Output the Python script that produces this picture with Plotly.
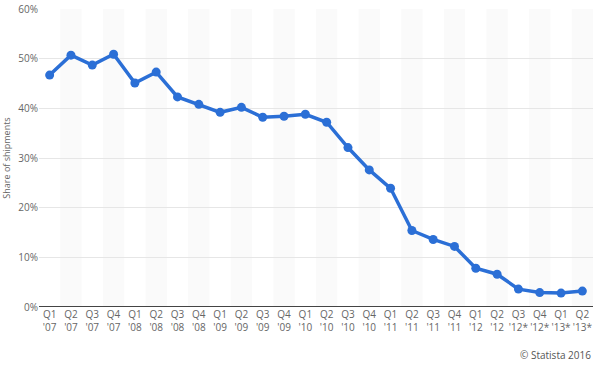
import plotly.graph_objects as go

quarters = ["Q1<br>'07", "Q2<br>'07", "Q3<br>'07", "Q4<br>'07",
            "Q1<br>'08", "Q2<br>'08", "Q3<br>'08", "Q4<br>'08",
            "Q1<br>'09", "Q2<br>'09", "Q3<br>'09", "Q4<br>'09",
            "Q1<br>'10", "Q2<br>'10", "Q3<br>'10", "Q4<br>'10",
            "Q1<br>'11", "Q2<br>'11", "Q3<br>'11", "Q4<br>'11",
            "Q1<br>'12", "Q2<br>'12", "Q3<br>'12*", "Q4<br>'12*",
            "Q1<br>'13*", "Q2<br>'13*"]
share = [46.7, 50.7, 48.7, 50.9, 45.1, 47.3, 42.3, 40.8, 39.2, 40.2,
         38.2, 38.4, 38.8, 37.2, 32.1, 27.6, 23.9, 15.4, 13.6, 12.2,
         7.8, 6.6, 3.6, 2.9, 2.8, 3.2]
y_ticks = [0, 10, 20, 30, 40, 50, 60]
y_labels = [f"{v}%" for v in y_ticks]

fig = go.Figure()
fig.add_trace(go.Scatter(
    x=list(range(len(quarters))), y=share, mode="lines+markers",
    line=dict(color="#2b6fd6", width=3.5),
    marker=dict(color="#2b6fd6", size=9),
    hoverinfo="skip", showlegend=False,
))

shapes = []
for i in range(len(quarters)):
    if i % 2 == 1:
        shapes.append(dict(type="rect", xref="x", yref="paper",
                           x0=i - 0.5, x1=i + 0.5, y0=0, y1=1,
                           fillcolor="#fafafa", line=dict(width=0),
                           layer="below"))

fig.update_layout(
    width=600, height=365,
    margin=dict(l=39, r=7, t=9, b=58),
    paper_bgcolor="white", plot_bgcolor="white",
    shapes=shapes,
    font=dict(family="Open Sans, Arial, sans-serif", color="#666666", size=10),
    xaxis=dict(
        tickmode="array", tickvals=list(range(len(quarters))), ticktext=quarters,
        range=[-0.5, len(quarters) - 0.5], showgrid=False, zeroline=False,
        showline=False, ticks="", tickangle=0, automargin=False,
        tickfont=dict(size=10, color="#666666"),
    ),
    yaxis=dict(
        range=[0, 60], tickmode="array", tickvals=y_ticks, ticktext=y_labels,
        showgrid=True, gridcolor="#e6e6e6", gridwidth=1, zeroline=False,
        showline=False, ticks="", automargin=False,
        tickfont=dict(size=10, color="#666666"),
        title=dict(text="Share of shipments", font=dict(size=9, color="#666666"),
                   standoff=6),
    ),
    annotations=[dict(text="© Statista 2016", xref="paper", yref="paper",
                      x=1.0, y=-0.13, xanchor="right", yanchor="top",
                      showarrow=False, font=dict(size=10, color="#555555"))],
)
fig.add_shape(type="line", xref="paper", yref="y", x0=0, x1=1, y0=0, y1=0,
              line=dict(color="#444444", width=2), layer="above")

fig.write_html("out.html", config={"displayModeBar": False})

with open("out.html", "r", encoding="utf-8") as f:
    html = f.read()
html = html.replace("<body>", '<body style="margin:0;padding:0;overflow:hidden">', 1)
with open("out.html", "w", encoding="utf-8") as f:
    f.write(html)
